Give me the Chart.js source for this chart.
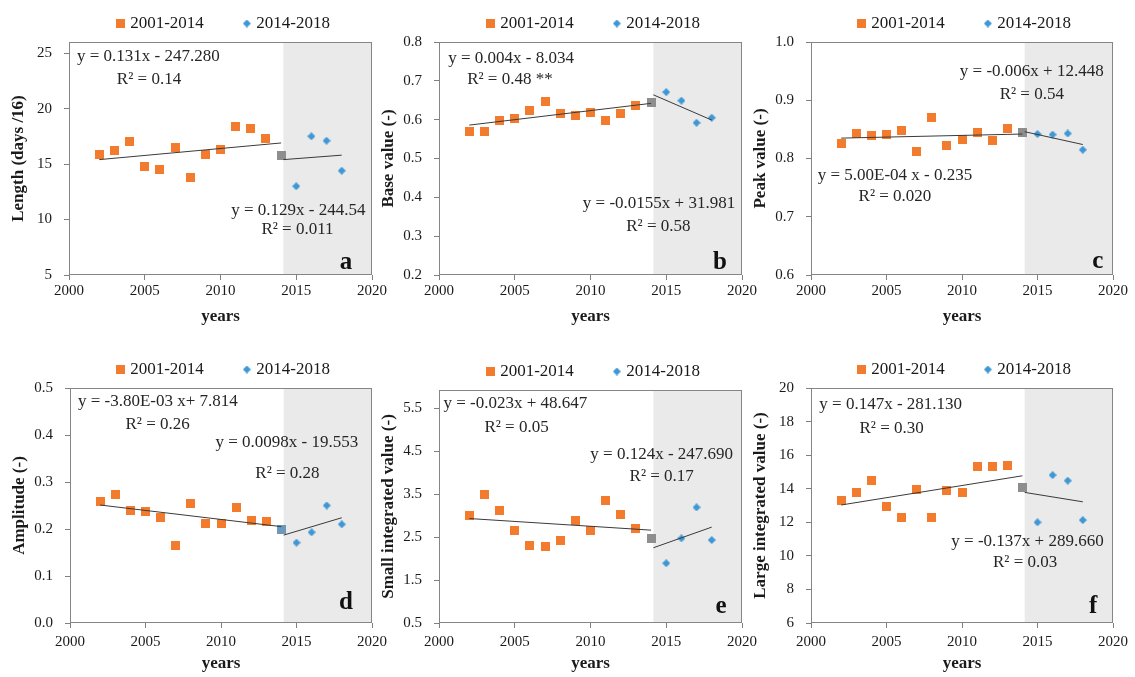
<!DOCTYPE html>
<html>
<head>
<meta charset="utf-8">
<script src="https://cdn.jsdelivr.net/npm/chart.js@4.4.0/dist/chart.umd.min.js"></script>
<style>
body { margin: 0; background: #fff; }
#wrap { position: relative; width: 1135px; height: 677px; overflow: hidden; background: #fff; }
#wrap canvas { position: absolute; }
</style>
</head>
<body>
<div id="wrap"></div>
<script>
const FONT = "'Liberation Serif', 'Times New Roman', serif";

// years of the two periods
const years1 = [2002, 2003, 2004, 2005, 2006, 2007, 2008, 2009, 2010, 2011, 2012, 2013];
const yearGray = [2014];
const years2 = [2015, 2016, 2017, 2018];
const trendYears1 = [2002, 2014];
const trendYears2 = [2014.15, 2018];
const yearTicks = [2000, 2005, 2010, 2015, 2020];
const shadeFrom = 2014.15;

// a - length
const lengthOld = [15.9, 16.2, 17.0, 14.8, 14.5, 16.5, 13.8, 15.9, 16.3, 18.4, 18.2, 17.3];
const lengthGray = [15.75];
const lengthNew = [13.0, 17.5, 17.1, 14.4];
const lengthTrend1 = [15.4, 16.9];
const lengthTrend2 = [15.4, 15.8];
const lengthTicks = [5, 10, 15, 20, 25];

// b - base value
const baseOld = [0.569, 0.569, 0.599, 0.604, 0.623, 0.646, 0.615, 0.610, 0.619, 0.599, 0.615, 0.636];
const baseGray = [0.645];
const baseNew = [0.671, 0.649, 0.592, 0.605];
const baseTrend1 = [0.586, 0.642];
const baseTrend2 = [0.664, 0.599];
const baseTicks = [0.2, 0.3, 0.4, 0.5, 0.6, 0.7, 0.8];

// c - peak value
const peakOld = [0.826, 0.843, 0.839, 0.842, 0.848, 0.812, 0.870, 0.822, 0.832, 0.845, 0.831, 0.851];
const peakGray = [0.844];
const peakNew = [0.842, 0.841, 0.843, 0.815];
const peakTrend1 = [0.835, 0.842];
const peakTrend2 = [0.846, 0.824];
const peakTicks = [0.6, 0.7, 0.8, 0.9, 1.0];

// d - amplitude
const ampOld = [0.258, 0.274, 0.240, 0.238, 0.225, 0.165, 0.255, 0.212, 0.212, 0.246, 0.218, 0.216];
const ampGray = [0.199];
const ampNew = [0.171, 0.193, 0.250, 0.210];
const ampTrend1 = [0.251, 0.205];
const ampTrend2 = [0.187, 0.224];
const ampTicks = [0.0, 0.1, 0.2, 0.3, 0.4, 0.5];

// e - small integrated value
const smallOld = [2.99, 3.50, 3.11, 2.65, 2.30, 2.27, 2.43, 2.88, 2.65, 3.34, 3.03, 2.70];
const smallGray = [2.47];
const smallNew = [1.89, 2.47, 3.19, 2.43];
const smallTrend1 = [2.93, 2.66];
const smallTrend2 = [2.25, 2.73];
const smallTicks = [0.5, 1.5, 2.5, 3.5, 4.5, 5.5];

// f - large integrated value
const largeOld = [13.27, 13.78, 14.48, 12.93, 12.27, 13.96, 12.27, 13.88, 13.78, 15.31, 15.31, 15.41];
const largeGray = [14.08];
const largeNew = [12.0, 14.81, 14.48, 12.13];
const largeTrend1 = [13.03, 14.77];
const largeTrend2 = [13.78, 13.22];
const largeTicks = [6, 8, 10, 12, 14, 16, 18, 20];

const seriesLabels = ['2001-2014', '2014-2018'];

// little marker images (square and diamond)
function makeMarker(shape, color, size) {
    const c = document.createElement('canvas');
    c.width = size;
    c.height = size;
    const g = c.getContext('2d');
    g.fillStyle = color;
    if (shape === 'square') {
        g.fillRect(0, 0, size, size);
    } else {
        g.beginPath();
        g.moveTo(size / 2, 0);
        g.lineTo(size, size / 2);
        g.lineTo(size / 2, size);
        g.lineTo(0, size / 2);
        g.closePath();
        g.fill();
    }
    return c;
}
const orangeSquare = makeMarker('square', '#F27B2D', 9);
const blueDiamond = makeMarker('diamond', '#3F98D5', 8);
const graySquare = makeMarker('square', '#8E8E8E', 9);
const grayBlueSquare = makeMarker('square', '#6C98BA', 9);

function pts(xs, ys) {
    return xs.map(function(x, i) { return {x: x, y: ys[i]}; });
}

let panels = [
    {letter: 'a', left: 0, top: -27, width: 392, height: 362, xAxisH: 60, xTickPad: 2, xTitlePad: 8,
     yMin: 5, yMax: 26, ticks: lengthTicks, dec: 0, yTitle: 'Length (days /16)',
     old: lengthOld, gray: lengthGray, neu: lengthNew, t1: lengthTrend1, t2: lengthTrend2, grayImg: graySquare,
     notes: [['y = 0.131x - 247.280', 0.262, 0.063], ['R\u00b2 = 0.14', 0.264, 0.163],
             ['y = 0.129x - 244.54', 0.757, 0.725], ['R\u00b2 = 0.011', 0.754, 0.807]],
     letterPos: [0.914, 0.948]},
    {letter: 'b', left: 370, top: -27, width: 392, height: 362, xAxisH: 60, xTickPad: 2, xTitlePad: 8,
     yMin: 0.2, yMax: 0.8, ticks: baseTicks, dec: 1, yTitle: 'Base value (-)',
     old: baseOld, gray: baseGray, neu: baseNew, t1: baseTrend1, t2: baseTrend2, grayImg: graySquare,
     notes: [['y = 0.004x - 8.034', 0.238, 0.070], ['R\u00b2 = 0.48 **', 0.234, 0.160],
             ['y = -0.0155x + 31.981', 0.726, 0.695], ['R\u00b2 = 0.58', 0.724, 0.790]],
     letterPos: [0.927, 0.948]},
    {letter: 'c', left: 742, top: -27, width: 391, height: 362, xAxisH: 60, xTickPad: 2, xTitlePad: 8,
     yMin: 0.6, yMax: 1.0, ticks: peakTicks, dec: 1, yTitle: 'Peak value (-)',
     old: peakOld, gray: peakGray, neu: peakNew, t1: peakTrend1, t2: peakTrend2, grayImg: graySquare,
     notes: [['y = -0.006x + 12.448', 0.731, 0.127], ['R\u00b2 = 0.54', 0.731, 0.227],
             ['y = 5.00E-04 x - 0.235', 0.278, 0.575], ['R\u00b2 = 0.020', 0.278, 0.664]],
     letterPos: [0.950, 0.944]},
    {letter: 'd', left: 1, top: 319, width: 391, height: 358, xAxisH: 54, xTickPad: 5, xTitlePad: 3,
     yMin: 0, yMax: 0.5, ticks: ampTicks, dec: 1, yTitle: 'Amplitude (-)',
     old: ampOld, gray: ampGray, neu: ampNew, t1: ampTrend1, t2: ampTrend2, grayImg: grayBlueSquare,
     notes: [['y = -3.80E-03 x+ 7.814', 0.291, 0.058], ['R\u00b2 = 0.26', 0.290, 0.157],
             ['y = 0.0098x - 19.553', 0.718, 0.233], ['R\u00b2 = 0.28', 0.720, 0.362]],
     letterPos: [0.914, 0.915]},
    {letter: 'e', left: 370, top: 321, width: 392, height: 356, xAxisH: 54, xTickPad: 5, xTitlePad: 3,
     yMin: 0.5, yMax: 5.92, ticks: smallTicks, dec: 1, yTitle: 'Small integrated value (-)',
     old: smallOld, gray: smallGray, neu: smallNew, t1: smallTrend1, t2: smallTrend2, grayImg: graySquare,
     notes: [['y = -0.023x + 48.647', 0.252, 0.057], ['R\u00b2 = 0.05', 0.256, 0.160],
             ['y = 0.124x - 247.690', 0.735, 0.276], ['R\u00b2 = 0.17', 0.735, 0.372]],
     letterPos: [0.931, 0.931]},
    {letter: 'f', left: 742, top: 319, width: 391, height: 358, xAxisH: 54, xTickPad: 5, xTitlePad: 3,
     yMin: 6, yMax: 20, ticks: largeTicks, dec: 0, yTitle: 'Large integrated value (-)',
     old: largeOld, gray: largeGray, neu: largeNew, t1: largeTrend1, t2: largeTrend2, grayImg: graySquare,
     notes: [['y = 0.147x - 281.130', 0.264, 0.072], ['R\u00b2 = 0.30', 0.267, 0.172],
             ['y = -0.137x + 289.660', 0.717, 0.654], ['R\u00b2 = 0.03', 0.709, 0.743]],
     letterPos: [0.934, 0.932]}
];

// shaded period, plot box, equations and panel letter
const panelDecor = {
    id: 'panelDecor',
    beforeDatasetsDraw(chart, args, opts) {
        const ctx = chart.ctx;
        const a = chart.chartArea;
        const x0 = chart.scales.x.getPixelForValue(opts.shadeFrom);
        ctx.save();
        ctx.fillStyle = '#EAEAEA';
        ctx.fillRect(x0, a.top, a.right - x0, a.bottom - a.top);
        ctx.restore();
    },
    afterDatasetsDraw(chart, args, opts) {
        const ctx = chart.ctx;
        const a = chart.chartArea;
        const w = a.right - a.left;
        const h = a.bottom - a.top;
        ctx.save();
        ctx.strokeStyle = '#858585';
        ctx.lineWidth = 1;
        ctx.strokeRect(Math.round(a.left) + 0.5, Math.round(a.top) + 0.5,
                       Math.round(w) - 1, Math.round(h) - 1);
        ctx.fillStyle = '#262626';
        ctx.textAlign = 'center';
        ctx.textBaseline = 'middle';
        ctx.font = '17px ' + FONT;
        opts.notes.forEach(function(n) {
            ctx.fillText(n[0], a.left + n[1] * w, a.top + n[2] * h);
        });
        ctx.fillStyle = '#111';
        ctx.font = 'bold 25px ' + FONT;
        ctx.fillText(opts.letter, a.left + opts.letterPos[0] * w, a.top + opts.letterPos[1] * h);
        ctx.restore();
    }
};

const wrap = document.getElementById('wrap');

panels.forEach(function(p) {
    let canvas = document.createElement('canvas');
    canvas.width = p.width;
    canvas.height = p.height;
    canvas.style.left = p.left + 'px';
    canvas.style.top = p.top + 'px';
    canvas.style.width = p.width + 'px';
    canvas.style.height = p.height + 'px';
    wrap.appendChild(canvas);

    let datasets = [
        {label: seriesLabels[0], data: pts(years1, p.old), pointStyle: orangeSquare, pointRadius: 4, order: 2},
        {label: seriesLabels[1], data: pts(years2, p.neu), pointStyle: blueDiamond, pointRadius: 4, order: 1},
        {label: '', data: pts(yearGray, p.gray), pointStyle: p.grayImg, pointRadius: 4, order: 3},
        {label: '', data: pts(trendYears1, p.t1), showLine: true, pointRadius: 0,
         borderColor: '#3A3A3A', borderWidth: 1, order: 0},
        {label: '', data: pts(trendYears2, p.t2), showLine: true, pointRadius: 0,
         borderColor: '#3A3A3A', borderWidth: 1, order: 0}
    ];

    new Chart(canvas, {
        type: 'scatter',
        data: {datasets: datasets},
        plugins: [panelDecor],
        options: {
            responsive: false,
            animation: false,
            devicePixelRatio: 1,
            layout: {padding: {left: 0, right: 20, top: 0, bottom: 0}},
            plugins: {
                tooltip: {enabled: false},
                legend: {
                    position: 'top',
                    align: 'end',
                    labels: {
                        usePointStyle: true,
                        boxWidth: 2,
                        boxHeight: 9,
                        padding: 42,
                        color: '#1a1a1a',
                        font: {family: FONT, size: 17},
                        filter: function(item) { return item.text !== ''; },
                        sort: function(a, b) { return a.datasetIndex - b.datasetIndex; }
                    }
                },
                panelDecor: {shadeFrom: shadeFrom, notes: p.notes, letter: p.letter, letterPos: p.letterPos}
            },
            scales: {
                x: {
                    type: 'linear',
                    min: 2000,
                    max: 2020,
                    afterBuildTicks: function(s) { s.ticks = yearTicks.map(function(v) { return {value: v}; }); },
                    afterFit: function(s) { s.height = p.xAxisH; },
                    ticks: {padding: p.xTickPad, color: '#1a1a1a', font: {family: FONT, size: 15},
                            callback: function(v) { return String(v); }},
                    grid: {drawOnChartArea: false, drawTicks: true, tickLength: 5, color: '#808080'},
                    border: {display: false},
                    title: {display: true, text: 'years', color: '#1a1a1a',
                            font: {family: FONT, size: 17, weight: 'bold'},
                            padding: {top: 0, bottom: p.xTitlePad}}
                },
                y: {
                    type: 'linear',
                    min: p.yMin,
                    max: p.yMax,
                    afterBuildTicks: function(s) { s.ticks = p.ticks.map(function(v) { return {value: v}; }); },
                    afterFit: function(s) { s.width = 69; },
                    ticks: {padding: 12, color: '#1a1a1a', font: {family: FONT, size: 15},
                            callback: function(v) { return v.toFixed(p.dec); }},
                    grid: {drawOnChartArea: false, drawTicks: true, tickLength: 5, color: '#808080'},
                    border: {display: false},
                    title: {display: true, text: p.yTitle, color: '#1a1a1a',
                            font: {family: FONT, size: 17, weight: 'bold'},
                            padding: {top: 8, bottom: 0}}
                }
            }
        }
    });
});
</script>
</body>
</html>
